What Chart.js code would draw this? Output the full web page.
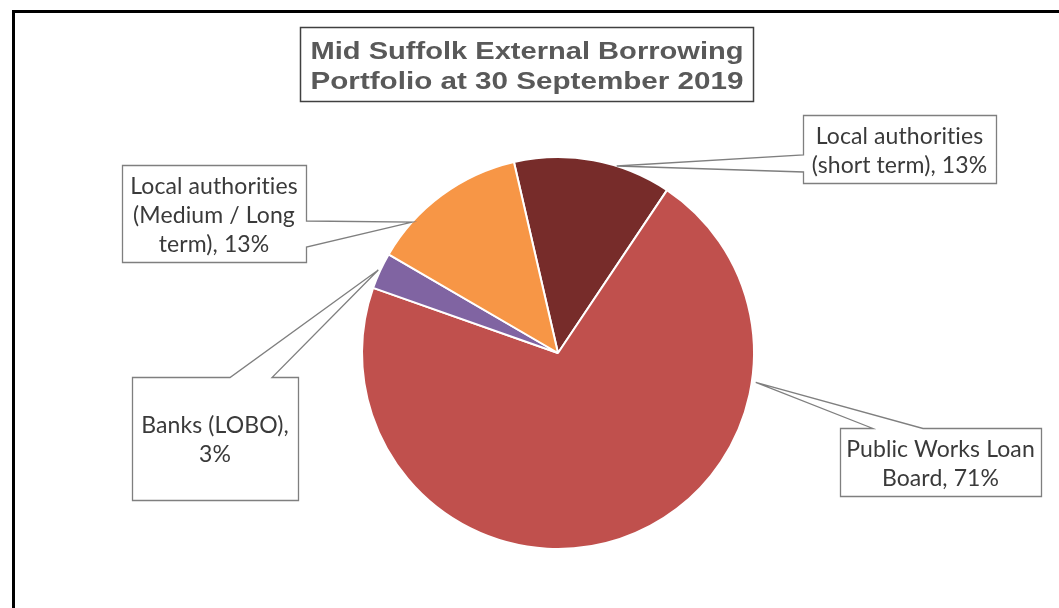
<!DOCTYPE html>
<html>
<head>
<meta charset="utf-8">
<script src="https://cdn.jsdelivr.net/npm/chart.js@4/dist/chart.umd.min.js"></script>
<style>
  html, body { margin: 0; padding: 0; background: #ffffff; }
  #wrap { width: 1059px; height: 608px; position: relative; }
</style>
</head>
<body>
<div id="wrap"><canvas id="c" width="1059" height="608"></canvas></div>
<script>
// ---- data ----
const titleLines = ["Mid Suffolk External Borrowing", "Portfolio at 30 September 2019"];
const categories = ["Local authorities (short term)", "Public Works Loan Board", "Banks (LOBO)", "Local authorities (Medium / Long term)"];
const shares = [13, 71, 3, 13];
const sliceColors = ["#772C2A", "#C0504D", "#8064A2", "#F79646"];
const labelLines = [
  ["Local authorities", "(short term), 13%"],
  ["Public Works Loan", "Board, 71%"],
  ["Banks (LOBO),", "3%"],
  ["Local authorities", "(Medium / Long", "term), 13%"]
];

// ---- callout layout (annotation styling only) ----
const callouts = [
  { box: [803, 115, 193, 68], side: "left",  base: [155, 172], t: 0.65, rf: 1.0 },
  { box: [840, 428, 201, 68], side: "top",   base: [873, 923], t: 0.253, rf: 1.02 },
  { box: [132, 377, 166, 123], side: "top",  base: [230, 272], t: 0.5, rf: 1.01 },
  { box: [122, 165, 184, 97], side: "right", base: [221, 247], t: 0.25, rf: 1.0 }
];

const calloutPlugin = {
  id: "callouts",
  afterDraw(chart) {
    const ctx = chart.ctx;
    ctx.save();
    // outer chart frame (left + top visible)
    ctx.strokeStyle = "#000000";
    ctx.lineWidth = 3;
    ctx.beginPath();
    ctx.moveTo(13.5, 620);
    ctx.lineTo(13.5, 11.5);
    ctx.lineTo(1070, 11.5);
    ctx.stroke();

    // title box
    ctx.fillStyle = "#ffffff";
    ctx.fillRect(300, 27, 454, 75);
    ctx.strokeStyle = "#404040";
    ctx.lineWidth = 1.5;
    ctx.strokeRect(300.5, 27.5, 453, 74);
    ctx.fillStyle = "#595959";
    ctx.font = "bold 24px 'Liberation Sans', Arial, sans-serif";
    ctx.textAlign = "center";
    ctx.textBaseline = "middle";
    titleLines.forEach((s, i) => {
      const w = ctx.measureText(s).width;
      const target = 433;
      ctx.save();
      ctx.translate(527, 52 + i * 30);
      ctx.scale(target / w, 1);
      ctx.fillText(s, 0, 0);
      ctx.restore();
    });

    // label callouts
    const meta = chart.getDatasetMeta(0);
    callouts.forEach((c, i) => {
      const arc = meta.data[i];
      const p = arc.getProps(["x", "y", "startAngle", "endAngle", "outerRadius"], true);
      const a = p.startAngle + c.t * (p.endAngle - p.startAngle);
      const tx = p.x + p.outerRadius * c.rf * Math.cos(a);
      const ty = p.y + p.outerRadius * c.rf * Math.sin(a);
      const [bx, by, bw, bh] = c.box;
      const x0 = bx + 0.5, y0 = by + 0.5, x1 = bx + bw + 0.5, y1 = by + bh + 0.5;
      ctx.beginPath();
      if (c.side === "left") {
        ctx.moveTo(x0, y0); ctx.lineTo(x1, y0); ctx.lineTo(x1, y1); ctx.lineTo(x0, y1);
        ctx.lineTo(x0, c.base[1]); ctx.lineTo(tx, ty); ctx.lineTo(x0, c.base[0]);
        ctx.closePath();
      } else if (c.side === "right") {
        ctx.moveTo(x0, y0); ctx.lineTo(x1, y0); ctx.lineTo(x1, c.base[0]); ctx.lineTo(tx, ty);
        ctx.lineTo(x1, c.base[1]); ctx.lineTo(x1, y1); ctx.lineTo(x0, y1);
        ctx.closePath();
      } else if (c.side === "top") {
        ctx.moveTo(x0, y0); ctx.lineTo(c.base[0], y0); ctx.lineTo(tx, ty); ctx.lineTo(c.base[1], y0);
        ctx.lineTo(x1, y0); ctx.lineTo(x1, y1); ctx.lineTo(x0, y1);
        ctx.closePath();
      }
      ctx.fillStyle = "#ffffff";
      ctx.fill();
      ctx.strokeStyle = "#7f7f7f";
      ctx.lineWidth = 1.3;
      ctx.lineJoin = "miter";
      ctx.stroke();

      ctx.fillStyle = "#3a3a3a";
      ctx.font = "23px Lato, 'Noto Sans', sans-serif";
      try { ctx.letterSpacing = "0.1px"; } catch (e) {}
      ctx.textAlign = "center";
      ctx.textBaseline = "middle";
      const lines = labelLines[i];
      const lh = 29;
      const cy = by + bh / 2 + 2 - (lines.length - 1) * lh / 2;
      lines.forEach((s, k) => ctx.fillText(s, bx + bw / 2, cy + k * lh));
      try { ctx.letterSpacing = "0px"; } catch (e) {}
    });
    ctx.restore();
  }
};

new Chart(document.getElementById("c"), {
  type: "pie",
  data: {
    labels: categories,
    datasets: [{
      data: shares,
      backgroundColor: sliceColors,
      borderColor: "#ffffff",
      borderWidth: 2
    }]
  },
  options: {
    responsive: false,
    animation: false,
    rotation: -13,
    layout: { padding: { top: 156, bottom: 58, left: 300, right: 243 } },
    plugins: {
      legend: { display: false },
      title: { display: false },
      tooltip: { enabled: false }
    }
  },
  plugins: [calloutPlugin]
});
</script>
</body>
</html>
